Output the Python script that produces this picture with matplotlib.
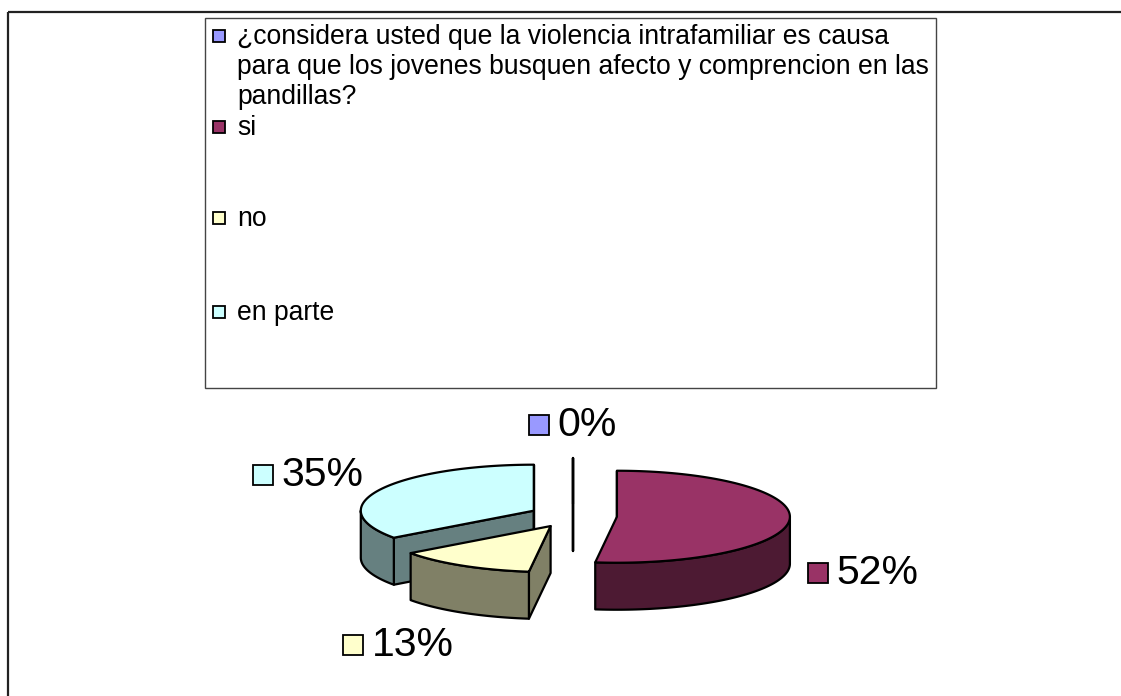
import textwrap
import numpy as np
import matplotlib
matplotlib.use('Agg')
import matplotlib.pyplot as plt
from matplotlib.patches import Polygon, Rectangle
from matplotlib.offsetbox import AnnotationBbox, HPacker, DrawingArea, TextArea

# datos de la encuesta
categorias = ['¿considera usted que la violencia intrafamiliar es causa para que los jovenes busquen afecto y comprencion en las pandillas?',
              'si', 'no', 'en parte']
valores = [0, 52, 13, 35]
etiquetas = ['0%', '52%', '13%', '35%']
color_top = ['#9999FF', '#993366', '#FFFFCC', '#CCFFFF']
color_lado = ['#4D4D80', '#4D1A33', '#808066', '#668080']

FONT = 'Liberation Sans'

fig = plt.figure(figsize=(11.21, 6.96), dpi=100)
ax = fig.add_axes([0, 0, 1, 1])
ax.set_xlim(0, 1121)
ax.set_ylim(696, 0)
ax.axis('off')

# marco (solo arriba e izquierda se ven)
ax.plot([8, 1121], [12, 12], color='#222222', lw=1.6, solid_capstyle='butt')
ax.plot([8, 8], [12, 696], color='#222222', lw=1.6, solid_capstyle='butt')

# leyenda
ax.add_patch(Rectangle((205, 18), 731, 370, fill=False, edgecolor='#444444', lw=1))
filas_y = [36, 127, 218, 312]
for i, cat in enumerate(categorias):
    yc = filas_y[i]
    ax.add_patch(Rectangle((213, yc - 6), 12, 12, facecolor=color_top[i],
                           edgecolor='black', lw=1.3))
    ax.text(237, yc - 12, textwrap.fill(cat, 56), fontsize=19.1, family=FONT,
            va='top', ha='left', linespacing=1.19)

# pastel 3D separado
cx, cy = 573, 516
rx, ry = 173, 46
prof = 47
sep = 44

total = sum(valores)
inicio = np.cumsum([0] + valores[:-1]) / total * 2 * np.pi
fin = np.cumsum(valores) / total * 2 * np.pi
medio = (inicio + fin) / 2

def punto(t, ox, oy):
    return cx + ox + rx * np.sin(t), cy + oy - ry * np.cos(t)

orden = np.argsort([-sep * (ry / rx) * np.cos(m) for m in medio])
for i in orden:
    ts, te, tm = inicio[i], fin[i], medio[i]
    ox = sep * np.sin(tm)
    oy = -sep * (ry / rx) * np.cos(tm)
    ap = (cx + ox, cy + oy)
    kw = dict(edgecolor='black', lw=1.6, joinstyle='round')

    # paredes radiales visibles
    if np.sin(ts) <= 1e-6:
        p = punto(ts, ox, oy)
        ax.add_patch(Polygon([ap, p, (p[0], p[1] + prof), (ap[0], ap[1] + prof)],
                             facecolor=color_lado[i], **kw))
    if np.sin(te) >= -1e-6:
        p = punto(te, ox, oy)
        ax.add_patch(Polygon([ap, p, (p[0], p[1] + prof), (ap[0], ap[1] + prof)],
                             facecolor=color_lado[i], **kw))

    # pared exterior (parte de adelante)
    a0, a1 = max(ts, np.pi / 2), min(te, 3 * np.pi / 2)
    if a1 > a0:
        t = np.linspace(a0, a1, 80)
        xs, ys = punto(t, ox, oy)
        pts = list(zip(xs, ys)) + list(zip(xs[::-1], ys[::-1] + prof))
        ax.add_patch(Polygon(pts, facecolor=color_lado[i], **kw))

    # cara superior
    t = np.linspace(ts, te, 120)
    xs, ys = punto(t, ox, oy)
    ax.add_patch(Polygon([ap] + list(zip(xs, ys)), facecolor=color_top[i], **kw))

    # etiqueta de porcentaje
    lx = ap[0] + (rx + 18) * np.sin(tm)
    ly = ap[1] - (ry + 33) * np.cos(tm) + (prof + 4 if np.cos(tm) < 0 else 0)
    s = np.sin(tm)
    ha = 0.0 if s > 0.3 else (1.0 if s < -0.3 else 0.5)
    da = DrawingArea(14.5, 14.5, 0, 0)
    da.add_artist(Rectangle((0, 0), 14.5, 14.5, facecolor=color_top[i],
                            edgecolor='black', lw=1.3))
    ta = TextArea(etiquetas[i], textprops=dict(fontsize=29.5, family=FONT))
    caja = HPacker(children=[da, ta], align='center', pad=0, sep=6)
    ax.add_artist(AnnotationBbox(caja, (lx, ly), xycoords='data',
                                 box_alignment=(ha, 0.5), frameon=False, pad=0))

fig.savefig('out.png', dpi=100, facecolor='white')
